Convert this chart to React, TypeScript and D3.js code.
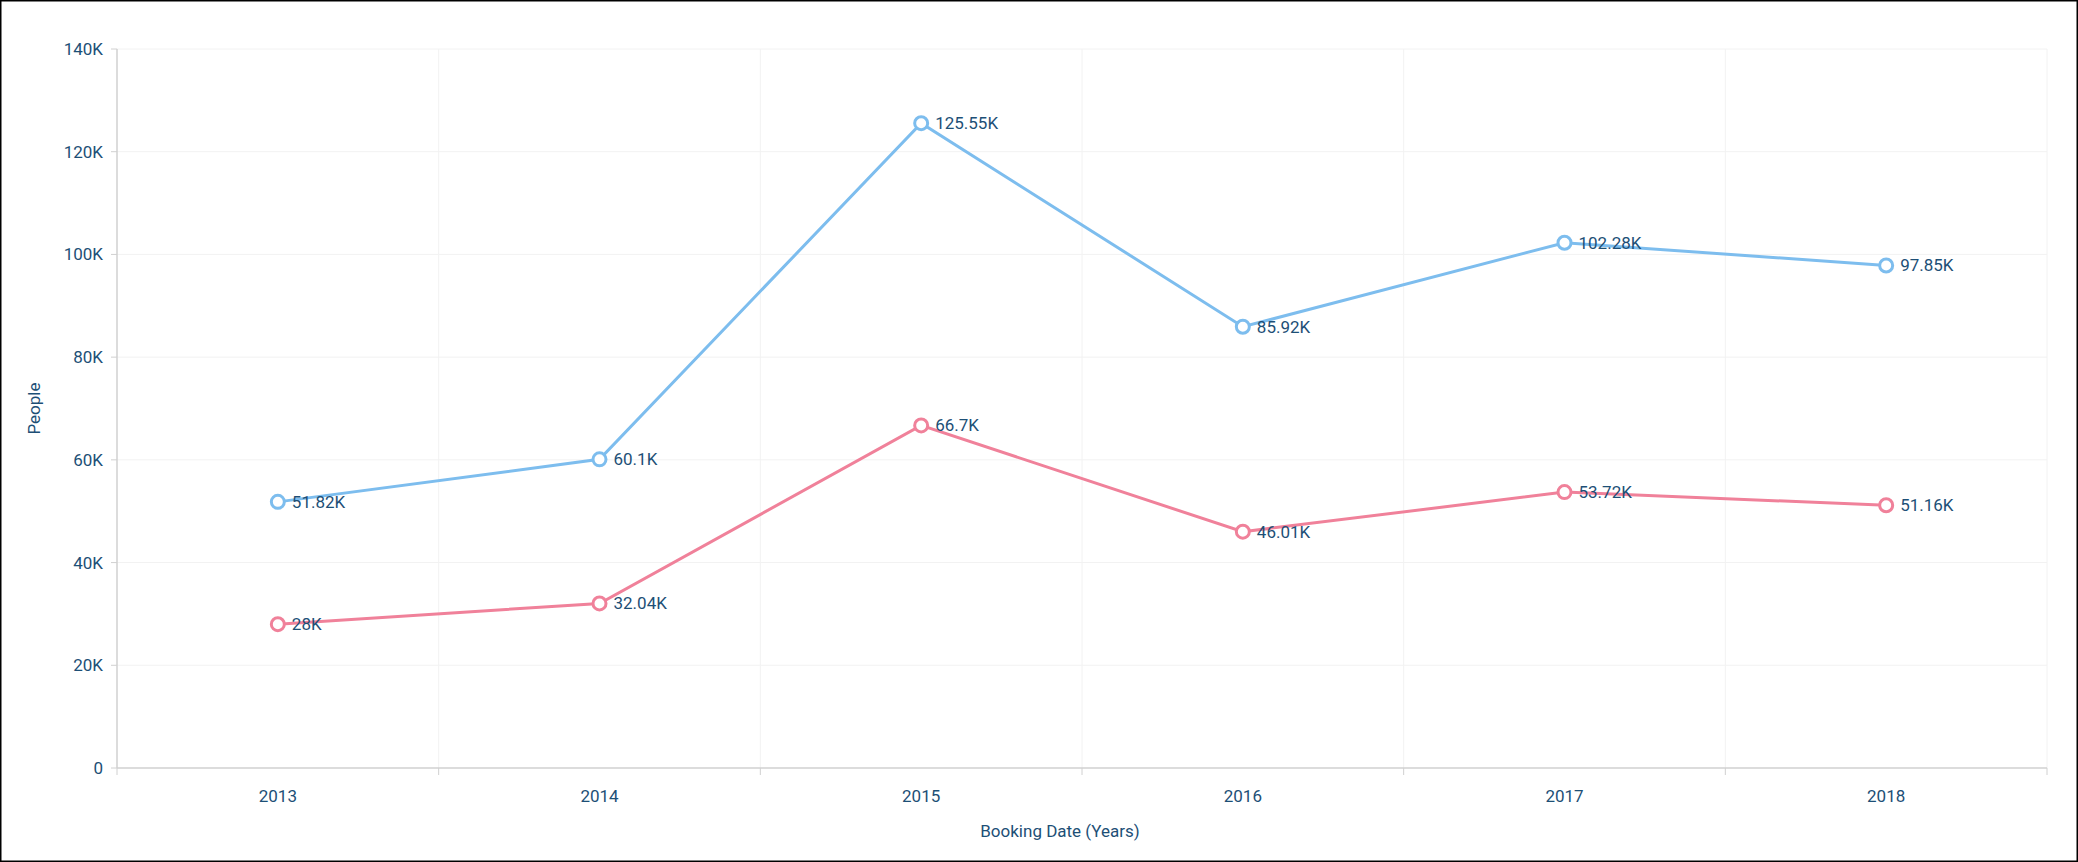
import { useEffect, useRef } from 'react'
import * as d3 from 'd3'

const years = ['2013', '2014', '2015', '2016', '2017', '2018']
const seriesA = [51820, 60100, 125550, 85920, 102280, 97850]
const seriesB = [28000, 32040, 66700, 46010, 53720, 51160]
const labelsA = ['51.82K', '60.1K', '125.55K', '85.92K', '102.28K', '97.85K']
const labelsB = ['28K', '32.04K', '66.7K', '46.01K', '53.72K', '51.16K']
const yTicks = [0, 20000, 40000, 60000, 80000, 100000, 120000, 140000]

export default function App() {
  const svgRef = useRef<SVGSVGElement>(null)

  useEffect(() => {
    document.body.style.margin = '0'
    const W = 2078, H = 862
    const svg = d3.select(svgRef.current!)
    svg.selectAll('*').remove()
    svg.attr('width', W).attr('height', H)
    svg.append('rect').attr('x', 0.5).attr('y', 0.5).attr('width', W - 1).attr('height', H - 1)
      .attr('fill', '#fff').attr('stroke', '#000').attr('stroke-width', 2)

    const left = 117, right = 2047, top = 49, bottom = 768
    const x = d3.scaleBand<string>().domain(years).range([left, right])
    const y = d3.scaleLinear().domain([0, 140000]).range([bottom, top])
    const cx = (d: string) => x(d)! + x.bandwidth() / 2
    const tickColor = '#1d4f76'
    const font = 'Roboto, sans-serif'

    // grid
    const bounds = years.map(d => x(d)!).concat([right])
    svg.append('g').selectAll('line').data(bounds.slice(1)).enter().append('line')
      .attr('x1', d => d).attr('x2', d => d).attr('y1', top).attr('y2', bottom)
      .attr('stroke', '#f2f2f2')
    svg.append('g').selectAll('line').data(yTicks.slice(1)).enter().append('line')
      .attr('x1', left).attr('x2', right).attr('y1', d => y(d)).attr('y2', d => y(d))
      .attr('stroke', '#f2f2f2')

    // axes
    const axisColor = '#d0d0d0'
    svg.append('line').attr('x1', left).attr('x2', left).attr('y1', top).attr('y2', bottom).attr('stroke', axisColor).attr('stroke-width', 1.5)
    svg.append('line').attr('x1', left).attr('x2', right).attr('y1', bottom).attr('y2', bottom).attr('stroke', axisColor).attr('stroke-width', 1.5)
    svg.append('g').selectAll('line').data(yTicks).enter().append('line')
      .attr('x1', left - 6).attr('x2', left).attr('y1', d => y(d)).attr('y2', d => y(d)).attr('stroke', axisColor)
    svg.append('g').selectAll('line').data(bounds).enter().append('line')
      .attr('x1', d => d).attr('x2', d => d).attr('y1', bottom).attr('y2', bottom + 7).attr('stroke', axisColor)
    svg.append('g').selectAll('text').data(yTicks).enter().append('text')
      .attr('x', left - 14).attr('y', d => y(d)).attr('dy', '0.35em').attr('text-anchor', 'end')
      .style('font-family', font).style('font-size', '17px').style('fill', tickColor)
      .text(d => d === 0 ? '0' : `${d / 1000}K`)
    svg.append('g').selectAll('text').data(years).enter().append('text')
      .attr('x', d => cx(d)).attr('y', bottom + 34).attr('text-anchor', 'middle')
      .style('font-family', font).style('font-size', '17px').style('fill', tickColor).text(d => d)

    svg.append('text').attr('x', 1060).attr('y', 837).attr('text-anchor', 'middle')
      .style('font-family', font).style('font-size', '17px').style('fill', tickColor).text('Booking Date (Years)')
    svg.append('text').attr('transform', `translate(40,${(top + bottom) / 2}) rotate(-90)`).attr('text-anchor', 'middle')
      .style('font-family', font).style('font-size', '17px').style('fill', tickColor).text('People')

    const draw = (vals: number[], labels: string[], color: string) => {
      const line = d3.line<number>().x((_, i) => cx(years[i])).y(d => y(d))
      svg.append('path').datum(vals).attr('fill', 'none').attr('stroke', color).attr('stroke-width', 3).attr('d', line)
      svg.append('g').selectAll('circle').data(vals).enter().append('circle')
        .attr('cx', (_, i) => cx(years[i])).attr('cy', d => y(d)).attr('r', 6.5)
        .attr('fill', '#fff').attr('stroke', color).attr('stroke-width', 3)
      svg.append('g').selectAll('text').data(vals).enter().append('text')
        .attr('x', (_, i) => cx(years[i]) + 14).attr('y', d => y(d) + 6)
        .style('font-family', font).style('font-size', '17px').style('fill', tickColor)
        .text((_, i) => labels[i])
    }
    draw(seriesA, labelsA, '#7dbdee')
    draw(seriesB, labelsB, '#f0819a')
  }, [])

  return <svg ref={svgRef} style={{ display: 'block' }} />
}
